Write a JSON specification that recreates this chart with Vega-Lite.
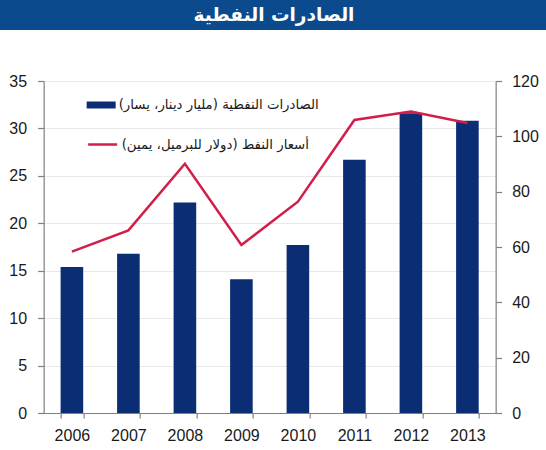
{
  "$schema": "https://vega.github.io/schema/vega-lite/v6.json",
  "padding": 0,
  "background": "white",
  "spacing": 43,
  "center": true,
  "resolve": {"legend": {"fill": "independent", "stroke": "independent"}},
  "config": {
    "view": {"stroke": null},
    "font": "Liberation Sans",
    "axis": {
      "labelFont": "Liberation Sans",
      "labelFontSize": 16,
      "labelColor": "#1a1a1a",
      "domainColor": "#7f7f7f",
      "tickColor": "#7f7f7f",
      "domainWidth": 1.2,
      "tickWidth": 1.2,
      "title": null
    }
  },
  "vconcat": [
    {
      "width": 582,
      "height": 30,
      "view": {"fill": "#0b4b8d", "stroke": null},
      "data": {"values": [{"heading": "الصادرات النفطية"}]},
      "mark": {
        "type": "text",
        "color": "white",
        "font": "DejaVu Sans",
        "fontWeight": "bold",
        "fontSize": 18.5,
        "align": "center",
        "baseline": "middle",
        "dx": -17
      },
      "encoding": {"text": {"field": "heading"}}
    },
    {
      "width": 452,
      "height": 332,
      "data": {
        "values": [
          {"year": "2006", "exports": 15.4, "price": 58.3},
          {"year": "2007", "exports": 16.8, "price": 66.0},
          {"year": "2008", "exports": 22.2, "price": 90.1},
          {"year": "2009", "exports": 14.1, "price": 60.7},
          {"year": "2010", "exports": 17.7, "price": 76.4},
          {"year": "2011", "exports": 26.7, "price": 105.9},
          {"year": "2012", "exports": 31.6, "price": 109.0},
          {"year": "2013", "exports": 30.8, "price": 104.8}
        ]
      },
      "encoding": {
        "x": {
          "field": "year",
          "type": "ordinal",
          "scale": {"paddingInner": 0.6, "paddingOuter": 0.3},
          "axis": {
            "labelAngle": 0,
            "tickBand": "extent",
            "tickSize": 5,
            "labelPadding": 9,
            "grid": false
          }
        }
      },
      "layer": [
        {
          "mark": {"type": "bar", "color": "#0a2d74"},
          "encoding": {
            "y": {
              "field": "exports",
              "type": "quantitative",
              "scale": {"domain": [0, 35], "nice": false},
              "axis": {
                "orient": "left",
                "values": [0, 5, 10, 15, 20, 25, 30, 35],
                "grid": true,
                "gridColor": "#e9e9e9",
                "tickSize": 6,
                "labelPadding": 11,
                "minExtent": 42
              }
            },
            "fill": {
              "datum": "الصادرات النفطية (مليار دينار، يسار)‏",
              "scale": {"range": ["#0a2d74"]},
              "legend": {
                "orient": "none",
                "legendX": 43,
                "legendY": 9.5,
                "title": null,
                "padding": 0,
                "symbolType": "M-1,-0.24H1V0.24H-1Z",
                "symbolSize": 841,
                "symbolStrokeWidth": 0,
                "labelFont": "DejaVu Sans",
                "labelFontSize": 13.3,
                "labelColor": "#1a1a1a",
                "labelOffset": 3,
                "labelLimit": 400
              }
            }
          }
        },
        {
          "mark": {"type": "line", "strokeWidth": 2.5},
          "encoding": {
            "y": {
              "field": "price",
              "type": "quantitative",
              "scale": {"domain": [0, 120], "nice": false},
              "axis": {
                "orient": "right",
                "values": [0, 20, 40, 60, 80, 100, 120],
                "grid": false,
                "tickSize": 6,
                "labelPadding": 10
              }
            },
            "stroke": {
              "datum": "أسعار النفط (دولار للبرميل، يمين)‏",
              "scale": {"range": ["#d21e48"]},
              "legend": {
                "orient": "none",
                "legendX": 43,
                "legendY": 47.5,
                "title": null,
                "padding": 0,
                "symbolType": "stroke",
                "symbolSize": 841,
                "symbolStrokeWidth": 2.5,
                "labelFont": "DejaVu Sans",
                "labelFontSize": 13.3,
                "labelColor": "#1a1a1a",
                "labelOffset": 3,
                "labelLimit": 400
              }
            }
          }
        }
      ],
      "resolve": {"scale": {"y": "independent"}}
    }
  ]
}
